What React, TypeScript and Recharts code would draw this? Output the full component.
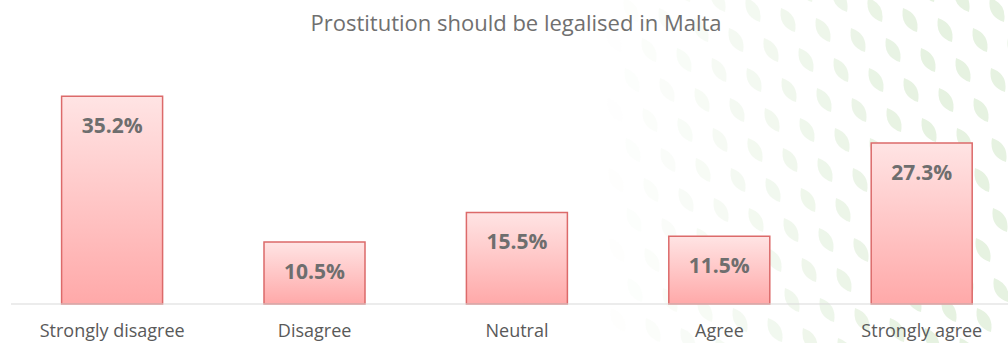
import { BarChart, Bar, XAxis, YAxis, LabelList } from "recharts";

const categories = ["Strongly disagree", "Disagree", "Neutral", "Agree", "Strongly agree"];
const shares = [35.2, 10.5, 15.5, 11.5, 27.3];

const data = categories.map((name, i) => ({ name, value: shares[i] }));

const FONT = "'Open Sans', sans-serif";

// faint leaf decoration behind the chart, fading out towards the left
function LeafBackdrop() {
  const leaves: { x: number; y: number; o: number }[] = [];
  for (let i = -40; i <= 40; i++) {
    for (let j = -20; j <= 20; j++) {
      const x = 893 + i * 35 - j * 17;
      const y = 50 + i * 10 + j * 30;
      if (x < 560 || x > 1030 || y < -20 || y > 360) continue;
      const o = Math.max(0, Math.min(1, (x - 600) / 320));
      if (o > 0) leaves.push({ x, y, o });
    }
  }
  return (
    <svg width={1008} height={343} style={{ position: "absolute", left: 0, top: 0 }}>
      {leaves.map((l, k) => (
        <path
          key={k}
          d="M0 -14 Q12 0 0 14 Q-12 0 0 -14 Z"
          transform={`translate(${l.x} ${l.y}) rotate(-30)`}
          fill="#e6f2e1"
          opacity={l.o}
        />
      ))}
    </svg>
  );
}

export default function App() {
  return (
    <div
      style={{
        position: "fixed",
        left: 0,
        top: 0,
        width: 1008,
        height: 343,
        overflow: "hidden",
        background: "#fff",
        fontFamily: FONT,
      }}
    >
      <LeafBackdrop />
      <div
        style={{
          position: "absolute",
          left: 0,
          top: 7,
          width: 1032,
          textAlign: "center",
          fontSize: 22,
          color: "#707070",
        }}
      >
        Prostitution should be legalised in Malta
      </div>
      <div style={{ position: "absolute", left: 0, top: 0 }}>
        <BarChart
          width={1024}
          height={343}
          data={data}
          margin={{ top: 68, right: 1, bottom: 0, left: 11 }}
          barCategoryGap="25%"
        >
          <defs>
            <linearGradient id="barFill" x1="0" y1="0" x2="0" y2="1">
              <stop offset="0%" stopColor="#ffe4e4" />
              <stop offset="100%" stopColor="#ffa9a9" />
            </linearGradient>
          </defs>
          <XAxis
            dataKey="name"
            axisLine={{ stroke: "#d9d9d9" }}
            tickLine={false}
            tickMargin={14}
            height={39}
            interval={0}
            tick={{ fill: "#595959", fontSize: 18, fontFamily: FONT }}
          />
          <YAxis hide domain={[0, 40]} />
          <Bar
            dataKey="value"
            fill="url(#barFill)"
            stroke="#dc6a6a"
            strokeWidth={1.5}
            isAnimationActive={false}
          >
            <LabelList
              dataKey="value"
              position="insideTop"
              offset={22}
              formatter={(v: any) => `${Number(v).toFixed(1)}%`}
              style={{ fill: "#6e6e6e", fontSize: 21, fontWeight: 700, fontFamily: FONT }}
            />
          </Bar>
        </BarChart>
      </div>
    </div>
  );
}
